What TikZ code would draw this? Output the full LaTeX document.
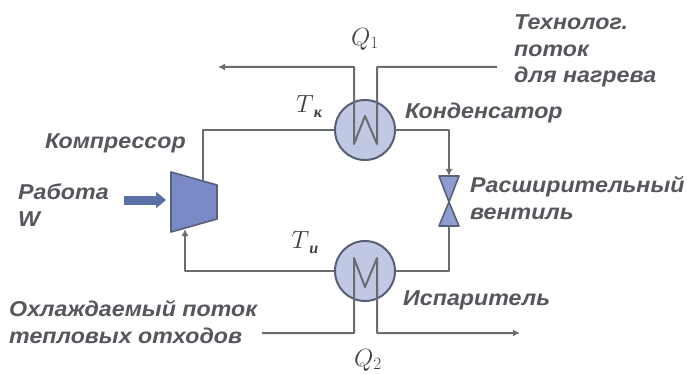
\documentclass[tikz,border=0pt]{standalone}
\usepackage{fontspec}
\setmainfont[FakeStretch=1.08]{Liberation Sans}
\newfontfamily\subfont{Liberation Serif}
\definecolor{pipegray}{RGB}{105,108,112}
\definecolor{labelgray}{RGB}{85,87,92}
\definecolor{exchblue}{RGB}{192,200,228}
\definecolor{compblue}{RGB}{122,138,200}
\definecolor{ringgray}{RGB}{88,96,118}
\definecolor{workblue}{RGB}{92,112,168}
\usetikzlibrary{shapes,arrows,arrows.meta,positioning,calc}
\newcommand{\tempsub}[1]{$T$\raisebox{-5pt}{\subfont\bfseries\itshape\fontsize{16}{16}\selectfont #1}}
\tikzset{
    pipe/.style={draw=pipegray, line width=2pt, line join=round},
    flow/.style={pipe, -{Latex[length=7pt,width=7pt]}},
    exch/.style={circle, draw=ringgray, line width=2pt, fill=exchblue, minimum size=60pt, inner sep=0pt},
    partfill/.style={draw=ringgray, line width=1.6pt, fill=compblue, line join=round},
    caption/.style={font=\bfseries\itshape\fontsize{21.5}{26.5}\selectfont, text=labelgray, align=left, anchor=west, inner sep=0pt},
    symb/.style={font=\fontsize{23}{25}\selectfont, text=black!75, inner sep=0pt}
}
\begin{document}
\begin{tikzpicture}[x=1pt,y=-1pt]
    \useasboundingbox (0,0) rectangle (687,374);
    \node[exch] (cond) at (365,130) {};
    \node[exch] (evap) at (365,271) {};
    % compressor and valve corners
    \coordinate (compNW) at (171,172);
    \coordinate (compNE) at (217,185);
    \coordinate (compSE) at (217,219);
    \coordinate (compSW) at (171,232);
    \coordinate (compIn) at (185,229);
    \coordinate (compOut) at (203,181);
    \coordinate (valveC) at (449,202);
    \coordinate (valveT) at (449,176);
    \coordinate (valveB) at (449,226);
    \draw[partfill] (compNW) -- (compNE) -- (compSE) -- (compSW) -- cycle;
    \draw[partfill, fill=compblue!85] (valveC) -- (439,176) -- (459,176) -- cycle;
    \draw[partfill, fill=compblue!85] (valveC) -- (439,226) -- (459,226) -- cycle;
    % refrigerant loop
    \draw[pipe] (cond.west) -| (compOut);
    \draw[flow] (cond.east) -| (valveT);
    \draw[pipe] (evap.east) -| (valveB);
    \draw[flow] (evap.west) -| (compIn);
    % hot and cold streams
    \coordinate (hotOut) at (218,67);
    \coordinate (hotIn) at (497,67);
    \coordinate (coldIn) at (262,333);
    \coordinate (coldOut) at (520,333);
    \draw[flow] (hotIn) -- (377,67) -- (377,144) -- (365,116) -- (354,144) -- (354,67) -- (hotOut);
    \draw[flow] (coldIn) -- (354,333) -- (354,258) -- (365,287) -- (377,258) -- (377,333) -- (coldOut);
    % work arrow
    \coordinate (workStart) at (124,200);
    \coordinate (workEnd) at (166,200);
    \draw[draw=workblue, line width=9pt, -{Triangle[length=10pt,width=16pt]}] (workStart) -- (workEnd);
    % labels
    \node[symb] (q1) at (365,39) {$Q_1$};
    \node[symb] (q2) at (368,360) {$Q_2$};
    \node[symb] (tk) at (309,107) {\tempsub{к}};
    \node[symb] (tu) at (305,243) {\tempsub{и}};
    \node[caption] (hotText) at (514,51) {Технолог.\\поток\\для нагрева};
    \node[caption] (condText) at (405,113) {Конденсатор};
    \node[caption] (compText) at (45,143) {Компрессор};
    \node[caption] (workText) at (18,205) {Работа\\W};
    \node[caption] (valveText) at (470,198) {Расширительный\\вентиль};
    \node[caption] (coldText) at (9,322) {Охлаждаемый поток\\тепловых отходов};
    \node[caption] (evapText) at (403,300) {Испаритель};
\end{tikzpicture}
\end{document}
